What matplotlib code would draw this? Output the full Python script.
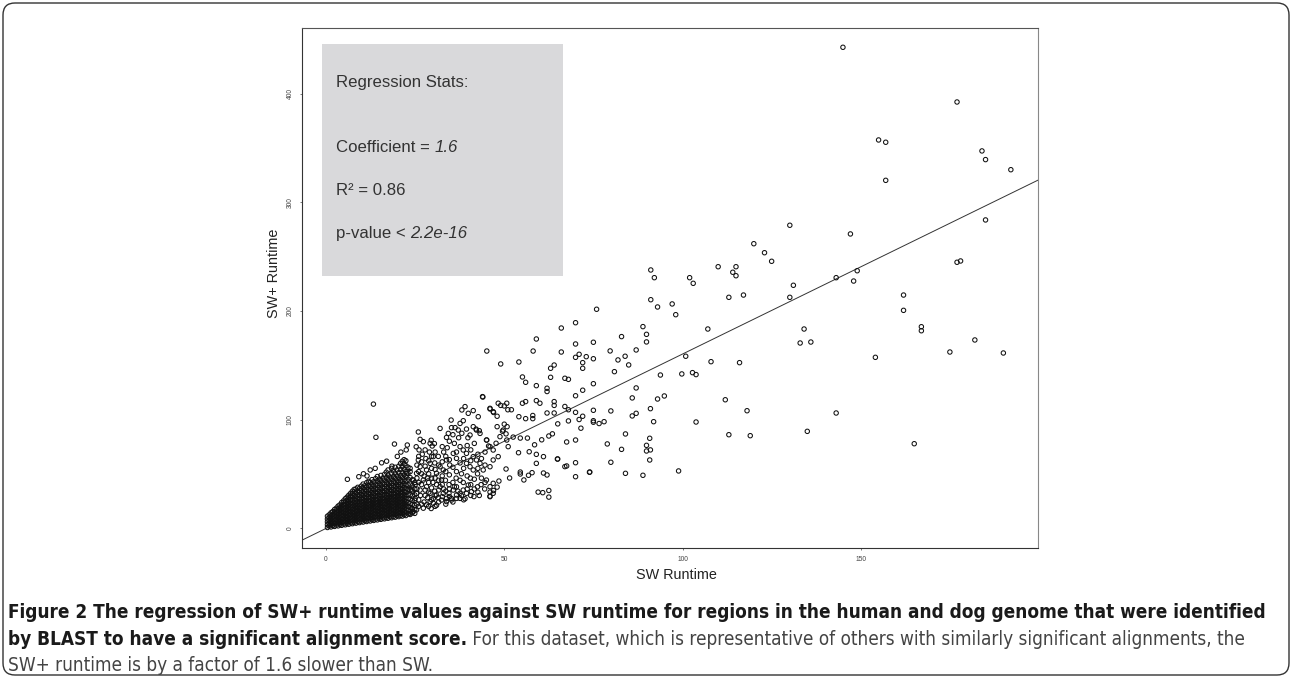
"""
SW+ vs SW runtime scatter with fitted regression line and stats box,
redrawn as a static figure (R base-graphics look).
"""

import matplotlib
matplotlib.use("Agg")  # no display, just write the PNG
import matplotlib.pyplot as plt
from matplotlib import font_manager
from matplotlib.patches import FancyBboxPatch, Rectangle
from matplotlib.transforms import IdentityTransform

# ---------------------------------------------------------------- data
# Dense wedge near the origin: the source has thousands of overplotted
# points here, so each entry is (SW runtime, [SW+ runtimes in that column]).
core_columns = [
    (0.4, [0.5, 3.1, 5.7, 8.3, 10.9]),
    (0.9, [1.8, 4.4, 7.0, 9.6, 12.2]),
    (1.4, [1.0, 3.6, 6.2, 8.8, 11.4, 14.0]),
    (1.9, [2.2, 4.8, 7.4, 10.0, 12.6, 15.2]),
    (2.4, [1.5, 4.1, 6.7, 9.3, 11.9, 14.5, 17.1]),
    (2.9, [2.7, 5.3, 7.9, 10.5, 13.1, 15.7, 18.3]),
    (3.4, [2.0, 4.6, 7.2, 9.8, 12.4, 15.0, 17.6, 20.2]),
    (3.9, [3.2, 5.8, 8.4, 11.0, 13.6, 16.2, 18.8, 21.4]),
    (4.4, [2.5, 5.1, 7.7, 10.3, 12.9, 15.5, 18.1, 20.7, 23.5]),
    (4.9, [3.7, 6.3, 8.9, 11.5, 14.1, 16.7, 19.3, 22.0, 25.0]),
    (5.4, [3.0, 5.6, 8.2, 10.8, 13.4, 16.0, 18.6, 21.3, 24.2, 27.0]),
    (5.9, [4.2, 6.8, 9.4, 12.0, 14.6, 17.2, 19.8, 22.6, 25.6, 28.5]),
    (6.4, [3.5, 6.1, 8.7, 11.3, 13.9, 16.5, 19.1, 21.8, 24.7, 27.8, 30.3]),
    (6.9, [4.7, 7.3, 9.9, 12.5, 15.1, 17.7, 20.4, 23.2, 26.2, 29.3, 32.0]),
    (7.4, [4.0, 6.6, 9.2, 11.8, 14.4, 17.0, 19.6, 22.4, 25.3, 28.5, 31.6, 33.9]),
    (7.9, [5.2, 7.8, 10.4, 13.0, 15.6, 18.2, 20.9, 23.8, 26.9, 30.1, 33.4, 35.6]),
    (8.4, [4.5, 7.1, 9.7, 12.3, 14.9, 17.5, 20.1, 22.9, 25.9, 29.0, 32.3, 36.0]),
    (8.9, [5.7, 8.3, 10.9, 13.5, 16.1, 18.7, 21.4, 24.3, 27.4, 30.7, 34.1, 37.5]),
    (9.4, [5.0, 7.6, 10.2, 12.8, 15.4, 18.0, 20.6, 23.4, 26.4, 29.6, 33.0, 36.5]),
    (9.9, [6.2, 8.8, 11.4, 14.0, 16.6, 19.2, 21.9, 24.8, 27.9, 31.2, 34.7, 38.6]),
    (10.4, [5.5, 8.1, 10.7, 13.3, 15.9, 18.5, 21.1, 23.9, 26.9, 30.1, 33.5, 37.2, 40.5]),
    (10.9, [6.7, 9.3, 11.9, 14.5, 17.1, 19.7, 22.4, 25.3, 28.4, 31.7, 35.2, 39.0]),
    (11.4, [6.0, 8.6, 11.2, 13.8, 16.4, 19.0, 21.6, 24.4, 27.4, 30.6, 34.0, 37.7, 41.8]),
    (11.9, [7.2, 9.8, 12.4, 15.0, 17.6, 20.2, 22.9, 25.8, 28.9, 32.2, 35.7, 39.5, 43.0]),
    (12.4, [6.5, 9.1, 11.7, 14.3, 16.9, 19.5, 22.1, 24.9, 27.9, 31.1, 34.5, 38.2, 42.2]),
    (12.9, [7.7, 10.3, 12.9, 15.5, 18.1, 20.7, 23.4, 26.3, 29.4, 32.7, 36.2, 40.0, 44.6]),
    (13.4, [7.0, 9.6, 12.2, 14.8, 17.4, 20.0, 22.6, 25.4, 28.4, 31.6, 35.0, 38.7, 42.7]),
    (13.9, [8.2, 10.8, 13.4, 16.0, 18.6, 21.2, 23.9, 26.8, 29.9, 33.2, 36.7, 40.5, 45.5]),
    (14.4, [7.5, 10.1, 12.7, 15.3, 17.9, 20.5, 23.1, 25.9, 28.9, 32.1, 35.5, 39.2, 43.3, 47.5]),
    (14.9, [8.7, 11.3, 13.9, 16.5, 19.1, 21.7, 24.4, 27.3, 30.4, 33.7, 37.2, 41.0, 45.0]),
    (15.4, [8.0, 10.6, 13.2, 15.8, 18.4, 21.0, 23.6, 26.4, 29.4, 32.6, 36.0, 39.7, 43.8, 48.5]),
    (15.9, [9.2, 11.8, 14.4, 17.0, 19.6, 22.2, 24.9, 27.8, 30.9, 34.2, 37.7, 41.5, 46.0]),
    (16.4, [8.5, 11.1, 13.7, 16.3, 18.9, 21.5, 24.1, 26.9, 29.9, 33.1, 36.5, 40.2, 44.3, 49.5]),
    (16.9, [9.7, 12.3, 14.9, 17.5, 20.1, 22.7, 25.4, 28.3, 31.4, 34.7, 38.2, 42.0, 46.5, 51.5]),
    (17.4, [9.0, 11.6, 14.2, 16.8, 19.4, 22.0, 24.6, 27.4, 30.4, 33.6, 37.0, 40.7, 44.8, 49.0, 53.5]),
    (17.9, [10.2, 12.8, 15.4, 18.0, 20.6, 23.2, 25.9, 28.8, 31.9, 35.2, 38.7, 42.5, 47.0]),
    (18.4, [9.5, 12.1, 14.7, 17.3, 19.9, 22.5, 25.1, 27.9, 30.9, 34.1, 37.5, 41.2, 45.3, 50.0, 55.0]),
    (18.9, [10.7, 13.3, 15.9, 18.5, 21.1, 23.7, 26.4, 29.3, 32.4, 35.7, 39.2, 43.0, 47.5, 52.5]),
    (19.4, [10.0, 12.6, 15.2, 17.8, 20.4, 23.0, 25.6, 28.4, 31.4, 34.6, 38.0, 41.7, 45.8, 50.5, 56.0]),
    (19.9, [11.2, 13.8, 16.4, 19.0, 21.6, 24.2, 26.9, 29.8, 32.9, 36.2, 39.7, 43.5, 48.0, 53.5]),
    (20.4, [10.5, 13.1, 15.7, 18.3, 20.9, 23.5, 26.1, 28.9, 31.9, 35.1, 38.5, 42.2, 46.3, 51.0, 57.0]),
    (20.9, [11.7, 14.3, 16.9, 19.5, 22.1, 24.7, 27.4, 30.3, 33.4, 36.7, 40.2, 44.0, 48.5, 54.0, 59.5]),
    (21.4, [11.0, 13.6, 16.2, 18.8, 21.4, 24.0, 26.6, 29.4, 32.4, 35.6, 39.0, 42.7, 46.8, 51.5, 56.5, 61.5]),
    (21.9, [12.2, 14.8, 17.4, 20.0, 22.6, 25.2, 27.9, 30.8, 33.9, 37.2, 40.7, 44.5, 49.0, 54.0, 59.0, 63.0]),
    (22.4, [11.5, 14.1, 16.7, 19.3, 21.9, 24.5, 27.1, 29.9, 32.9, 36.1, 39.5, 43.2, 47.3, 52.0, 57.5, 62.0]),
    (23.0, [13.0, 16.5, 20.0, 23.5, 27.0, 31.0, 35.5, 40.0, 45.0, 50.5, 56.0]),
    (23.6, [12.5, 15.5, 19.0, 22.5, 26.5, 30.5, 35.0, 40.5, 46.5, 52.0]),
    (24.2, [14.0, 17.5, 21.5, 25.5, 29.5, 34.0, 39.0, 44.5]),
    (24.9, [13.5, 17.0, 21.0, 25.5, 30.5, 36.0, 42.0]),
]

# loose cloud between roughly 20 and 50 on the SW axis, (SW, SW+) pairs
mid_points = [
    (25.9, 88.5), (22.8, 76.5), (25.3, 74.9), (26.4, 81.7), (27.3, 79.6), (29.2, 78.0), (29.8, 75.6),
    (32.0, 91.8), (33.8, 83.5), (34.3, 87.2), (35.1, 99.5), (35.2, 92.5), (36.2, 92.5), (37.1, 90.3),
    (37.6, 96.4), (38.5, 98.9), (38.1, 108.8), (39.0, 111.9), (39.9, 105.7), (41.3, 108.2), (42.7, 102.6),
    (41.3, 93.4), (42.2, 90.3), (43.2, 87.2), (40.4, 85.7), (43.9, 121.1), (46.0, 110.3), (46.9, 107.2),
    (48.3, 115.0), (50.7, 115.0), (45.0, 81.1), (46.0, 75.0), (46.9, 71.9), (48.8, 84.2), (50.7, 81.1),
    (51.1, 75.0), (49.7, 90.3), (50.8, 93.4), (46.9, 62.7), (46.0, 56.5), (48.3, 65.8), (41.3, 65.8),
    (42.2, 62.7), (43.2, 59.6), (44.1, 53.5), (45.0, 44.2), (39.4, 59.6), (40.4, 56.5), (41.3, 53.5),
    (37.6, 75.0), (38.5, 71.9), (39.4, 68.8), (35.7, 68.8), (36.6, 64.2), (33.8, 62.7), (34.7, 58.1),
    (32.0, 56.5), (32.9, 53.5), (31.0, 50.4), (32.4, 44.2), (30.1, 65.8), (29.2, 59.6), (28.2, 53.5),
    (27.3, 44.2), (28.2, 38.1), (29.2, 31.9), (30.1, 27.3), (32.0, 38.1), (32.9, 31.9), (33.8, 27.3),
    (31.0, 30.4), (35.7, 35.0), (36.6, 30.4), (37.6, 27.3), (35.2, 27.3), (39.4, 32.0), (40.8, 33.5),
    (39.9, 39.6), (46.0, 38.1), (46.9, 41.2), (46.0, 28.9), (46.9, 32.0), (25.0, 27.3), (25.4, 31.9),
    (26.4, 35.0), (24.5, 44.2), (25.4, 50.4), (26.4, 56.5), (25.9, 62.7), (23.6, 55.0), (22.6, 50.4),
    (23.6, 13.7), (24.1, 18.3), (24.5, 15.2), (25.4, 16.8), (27.3, 18.3), (28.2, 21.4), (29.2, 24.4),
    (30.1, 22.9), (32.4, 25.8), (33.8, 24.4), (35.2, 25.8), (36.6, 27.3), (37.6, 32.0), (38.5, 35.0),
    (29.5, 80.9), (30.4, 77.8), (38.1, 87.3), (37.2, 83.2), (39.4, 91.2), (39.8, 83.2), (42.1, 91.2),
    (43.0, 89.7), (45.1, 81.1), (45.6, 75.6), (47.7, 78.1), (26.1, 72.0), (27.0, 68.0), (28.0, 64.0),
    (29.0, 70.0), (30.5, 60.0), (31.5, 66.0), (33.0, 70.0), (34.0, 74.0), (36.0, 78.0), (27.5, 48.0),
    (28.5, 46.0), (30.0, 42.0), (31.0, 40.0), (33.5, 44.0), (34.5, 40.0), (36.5, 46.0), (38.0, 50.0),
    (38.5, 42.0), (40.5, 46.0), (42.5, 50.0), (43.5, 40.0), (44.5, 36.0), (24.0, 35.0), (25.0, 40.0),
    (26.5, 30.0), (27.5, 24.0), (28.5, 28.0), (30.5, 34.0), (31.5, 28.0), (33.0, 36.0), (34.5, 32.0),
    (36.0, 38.0), (37.0, 34.0), (38.0, 30.0), (39.0, 27.0), (41.5, 29.0), (42.5, 38.0), (43.0, 30.0),
    (26.0, 20.0), (29.5, 18.0), (31.0, 21.0),
    (25.5, 22.0), (25.5, 36.0), (25.5, 46.0), (25.5, 58.0), (26.0, 26.0), (26.0, 42.0), (26.0, 52.0),
    (26.0, 66.0), (26.8, 22.0), (26.8, 40.0), (26.8, 50.0), (26.8, 61.0), (27.8, 30.0), (27.8, 35.0),
    (27.8, 57.0), (27.8, 72.0), (28.8, 20.0), (28.8, 33.0), (28.8, 42.0), (28.8, 50.0), (28.8, 62.0),
    (29.6, 26.0), (29.6, 37.0), (29.6, 46.0), (29.6, 55.0), (29.6, 66.0), (30.6, 20.0), (30.6, 30.0),
    (30.6, 46.0), (30.6, 54.0), (30.6, 70.0), (31.6, 24.0), (31.6, 35.0), (31.6, 44.0), (31.6, 58.0),
    (32.6, 29.0), (32.6, 40.0), (32.6, 48.0), (32.6, 61.0), (32.6, 75.0), (33.6, 22.0), (33.6, 34.0),
    (33.6, 52.0), (33.6, 66.0), (34.6, 29.0), (34.6, 36.0), (34.6, 49.0), (34.6, 63.0), (34.6, 80.0),
    (35.6, 24.0), (35.6, 42.0), (35.6, 56.0), (35.6, 86.0), (36.6, 38.0), (36.6, 52.0), (36.6, 70.0),
    (37.6, 44.0), (37.6, 60.0), (38.6, 26.0), (38.6, 55.0), (38.6, 64.0), (39.6, 36.0), (39.6, 48.0),
    (39.6, 76.0), (40.6, 30.0), (40.6, 40.0), (40.6, 62.0), (40.6, 72.0), (41.6, 36.0), (41.6, 45.0),
    (41.6, 78.0), (42.6, 33.0), (42.6, 55.0), (42.6, 68.0), (43.6, 46.0), (43.6, 64.0), (44.6, 42.0),
    (44.6, 58.0), (44.6, 70.0),
    # stragglers above the dense wedge
    (6.0, 44.9), (9.2, 47.3), (13.3, 114.2), (14.0, 83.6), (19.2, 77.4), (12.4, 53.5), (13.8, 55.0),
    (15.6, 60.1), (17.0, 61.6), (10.5, 50.0), (11.5, 48.0), (18.5, 57.0), (20.0, 66.0), (21.0, 70.0),
    (22.5, 72.0),
]

# sparser points, SW runtime roughly 44 - 77
outer_points = [
    (70.0, 189.2), (66.0, 184.3), (59.0, 174.2), (70.0, 169.6), (75.0, 171.2), (45.1, 163.1), (58.1, 163.1),
    (66.0, 162.2), (71.0, 160.1), (70.0, 157.3), (72.0, 152.4), (73.0, 157.9), (75.0, 156.0), (72.0, 147.2),
    (49.0, 151.2), (54.1, 153.0), (63.0, 147.2), (64.0, 150.2), (63.0, 138.9), (55.1, 139.2), (56.0, 134.3),
    (59.0, 131.2), (62.0, 128.8), (62.0, 125.8), (67.0, 138.0), (68.0, 137.0), (72.0, 127.0), (75.0, 133.0),
    (70.0, 121.9), (44.0, 120.7), (46.0, 109.7), (49.0, 113.0), (50.0, 112.5), (51.0, 109.0), (52.0, 109.0),
    (47.0, 106.5), (48.0, 103.0), (55.1, 115.0), (56.0, 116.5), (59.0, 117.4), (60.0, 115.0), (64.0, 116.5),
    (64.0, 113.0), (67.0, 112.0), (68.0, 109.0), (70.0, 106.6), (75.0, 108.5), (72.0, 103.0), (71.0, 100.0),
    (75.0, 97.5), (54.1, 102.6), (56.0, 100.8), (58.0, 103.7), (58.0, 100.8), (62.0, 106.0), (64.0, 106.0),
    (68.0, 98.7), (65.0, 96.0), (48.0, 93.4), (50.0, 95.7), (49.5, 89.2), (50.5, 86.8), (52.5, 83.8),
    (54.5, 82.9), (56.5, 82.9), (58.5, 76.7), (60.5, 81.3), (62.5, 84.8), (63.5, 86.8), (67.5, 79.3),
    (71.5, 92.0), (70.0, 81.1), (54.0, 69.4), (57.0, 70.3), (59.0, 67.9), (59.0, 59.6), (61.0, 65.8),
    (65.0, 63.6), (67.5, 57.2), (70.0, 60.2), (74.0, 51.6), (70.0, 47.3), (61.0, 50.7), (62.0, 48.9),
    (50.5, 54.4), (54.5, 51.6), (54.5, 49.8), (55.5, 44.3), (59.5, 33.1), (62.5, 34.6), (62.5, 28.5),
    (51.5, 46.1), (48.5, 43.3), (46.0, 33.1), (46.0, 29.4), (47.0, 34.6), (48.0, 37.7), (73.9, 51.4),
    (67.0, 56.6), (64.9, 63.6), (57.8, 51.0), (56.8, 48.6), (60.8, 32.6), (76.6, 96.3), (75.9, 201.6),
]

# long tail, SW runtime above ~75
far_points = [
    (91.1, 237.8), (92.1, 230.7), (91.1, 210.4), (93.0, 203.7), (97.1, 206.5), (98.1, 196.6),
    (82.9, 176.4), (89.9, 178.5), (89.9, 171.5), (88.9, 185.6), (87.0, 164.1), (79.7, 163.2),
    (81.9, 154.9), (83.9, 158.3), (84.9, 150.3), (80.9, 144.1), (93.8, 141.0), (87.0, 129.1),
    (85.9, 119.9), (93.0, 118.9), (94.9, 121.7), (91.0, 110.0), (85.9, 103.3), (87.0, 105.7),
    (79.9, 107.9), (78.0, 98.0), (75.0, 98.9), (91.9, 98.0), (84.0, 86.7), (90.8, 82.7),
    (78.9, 77.5), (89.9, 76.2), (89.9, 71.0), (91.0, 72.0), (90.8, 62.7), (82.9, 72.5),
    (79.9, 60.6), (84.0, 50.4), (88.9, 48.6), (98.9, 52.6),
    (145.0, 443.0), (177.0, 392.6), (155.0, 357.6), (157.0, 355.5), (157.0, 320.4), (184.0, 347.5),
    (185.0, 339.5), (192.1, 330.2), (185.0, 283.9), (130.1, 279.0), (147.1, 271.0), (120.0, 262.0),
    (123.0, 253.7), (125.0, 245.8), (102.0, 230.7), (103.0, 225.5), (110.0, 240.8), (114.1, 235.7),
    (115.0, 240.8), (115.0, 232.5), (113.0, 212.6), (117.1, 214.7), (130.1, 212.6), (131.1, 223.7),
    (143.1, 230.7), (148.0, 227.6), (149.0, 237.1), (177.0, 244.9), (178.0, 246.1), (162.0, 214.7),
    (162.0, 200.6), (167.0, 185.5), (167.0, 181.8), (107.1, 183.4), (134.1, 183.4), (133.0, 170.5),
    (136.0, 171.4), (182.0, 173.3), (175.0, 162.2), (190.0, 161.3), (154.1, 157.3), (108.0, 153.3),
    (116.0, 152.4), (112.0, 118.2), (118.1, 108.1), (143.1, 106.0), (113.0, 86.0), (119.0, 85.1),
    (135.0, 89.1), (165.0, 77.7), (100.9, 158.3), (99.8, 142.0), (102.8, 143.2), (103.8, 141.4),
    (103.8, 97.7),
]

# fitted line (as drawn) and the numbers printed in the stats box
fit_slope = 1.607
fit_intercept = -0.37
stats_title = "Regression Stats:"
stats_coef = "1.6"
stats_r2 = "0.86"
stats_pvalue = "2.2e-16"

x_ticks = [0, 50, 100, 150]
y_ticks = [0, 100, 200, 300, 400]

caption_bold = [
    "Figure 2 The regression of SW+ runtime values against SW runtime for regions in the human and dog genome that were identified",
    "by BLAST to have a significant alignment score.",
]
caption_regular = [
    " For this dataset, which is representative of others with similarly significant alignments, the",
    "SW+ runtime is by a factor of 1.6 slower than SW.",
]

# ---------------------------------------------------------------- styling
W, H = 1292, 678
PLOT_FONT = ["Liberation Sans", "DejaVu Sans"]


def pick_caption_font():
    """A narrow sans if one is installed, otherwise plain Liberation Sans."""
    names = {f.name for f in font_manager.fontManager.ttflist}
    if "Liberation Sans Narrow" in names:
        return dict(family=["Liberation Sans Narrow", "DejaVu Sans"])
    path = font_manager.findfont(font_manager.FontProperties(family="DejaVu Sans", stretch="condensed"),
                                 fallback_to_default=False)
    if "Condensed" in path:
        return dict(family=["DejaVu Sans"], stretch="condensed")
    return dict(family=["Liberation Sans", "DejaVu Sans"])


def px_to_fig(x, y):
    """pixel coords (origin top-left) -> figure fraction"""
    return x / W, 1 - y / H


def text_width(fig, txt, **kw):
    renderer = fig.canvas.get_renderer()
    t = fig.text(0, 0, txt, **kw)
    w = t.get_window_extent(renderer=renderer).width
    t.remove()
    return w


def put_run(fig, x_px, y_px, parts, **common):
    """Write consecutive text pieces on one baseline; parts = [(text, kwargs), ...]."""
    renderer = fig.canvas.get_renderer()
    cursor = x_px
    for txt, kw in parts:
        fx, fy = px_to_fig(cursor, y_px)
        t = fig.text(fx, fy, txt, ha="left", va="baseline", **{**common, **kw})
        cursor += t.get_window_extent(renderer=renderer).width
    return cursor


fig = plt.figure(figsize=(W / 100, H / 100), dpi=100)

left, right, top, bottom = 302.3, 1038.3, 28.3, 548.0
ax = fig.add_axes([left / W, 1 - bottom / H, (right - left) / W, (bottom - top) / H])

xs, ys = [], []
for sw, column in core_columns:
    for swplus in column:
        xs.append(sw)
        ys.append(swplus)
for group in (mid_points, outer_points, far_points):
    for sw, swplus in group:
        xs.append(sw)
        ys.append(swplus)

# line first so the overplotted wedge hides it, as in the original
ax.axline((0, fit_intercept), slope=fit_slope, color="#333333", linewidth=0.7, zorder=1.5)
ax.scatter(xs, ys, s=10, facecolors="none", edgecolors="#111111", linewidths=0.75, zorder=2)

ax.set_xlim(-6.65, 199.8)
ax.set_ylim(-18.4, 460.5)

# grey stats panel (drawn in data units like the R rect())
ax.add_patch(Rectangle((-1.0, 232.5), 67.5, 213.5, facecolor="#d9d9db",
                       edgecolor="none", zorder=1))

ax.set_xticks(x_ticks)
ax.set_yticks(y_ticks)
ax.tick_params(axis="both", direction="out", length=1.7, width=0.5, colors="#444444",
               labelsize=4.8)
ax.tick_params(axis="x", pad=3.9)
ax.tick_params(axis="y", pad=4.6, labelrotation=90)
for lab in ax.get_xticklabels() + ax.get_yticklabels():
    lab.set_family(PLOT_FONT)
for lab in ax.get_yticklabels():
    lab.set_va("center")

for side, col in (("left", "#333333"), ("bottom", "#333333"), ("top", "#555555"), ("right", "#888888")):
    ax.spines[side].set_color(col)
    ax.spines[side].set_linewidth(0.8)

# stats text - positions in pixels of the reference
box_font = dict(family=PLOT_FONT, fontsize=12.1, color="#333333")
put_run(fig, 335.7, 87, [(stats_title, {})], **box_font)
put_run(fig, 335.7, 152, [("Coefficient = ", {}), (stats_coef, {"style": "italic"})], **box_font)
put_run(fig, 335.7, 195, [("R\u00b2 = " + stats_r2, {})], **box_font)
put_run(fig, 335.7, 238, [("p-value < ", {}), (stats_pvalue, {"style": "italic"})], **box_font)

# axis titles
fx, fy = px_to_fig(676, 575)
fig.text(fx, fy, "SW Runtime", ha="center", va="center", family=PLOT_FONT, fontsize=10.4, color="#222222")
fx, fy = px_to_fig(274, 273)
fig.text(fx, fy, "SW+ Runtime", ha="center", va="center", rotation=90, family=PLOT_FONT,
         fontsize=10.4, color="#222222")

# caption - sizes chosen so the lines span the measured widths
cap_font = pick_caption_font()
bold_size = 10 * 1255 / text_width(fig, caption_bold[0], weight="bold", fontsize=10, **cap_font)
lead_w = text_width(fig, caption_bold[1], weight="bold", fontsize=bold_size, **cap_font)
reg_size = 10 * (1258 - 8 - lead_w) / text_width(fig, caption_regular[0], fontsize=10, **cap_font)
reg_size = min(reg_size, bold_size)

bold_kw = {"weight": "bold", "color": "#1a1a1a", "fontsize": bold_size}
reg_kw = {"color": "#444444", "fontsize": reg_size}
put_run(fig, 8, 618, [(caption_bold[0], bold_kw)], **cap_font)
put_run(fig, 8, 645, [(caption_bold[1], bold_kw), (caption_regular[0], reg_kw)], **cap_font)
put_run(fig, 8, 671, [(caption_regular[1], reg_kw)], **cap_font)

# rounded outer frame around the whole figure
frame = FancyBboxPatch((3, 3), W - 6, H - 6, boxstyle="round,pad=0,rounding_size=12",
                       transform=IdentityTransform(), facecolor="none", edgecolor="#333333",
                       linewidth=1.0)
fig.patches.append(frame)

fig.savefig("out.png", dpi=100)
plt.close(fig)
